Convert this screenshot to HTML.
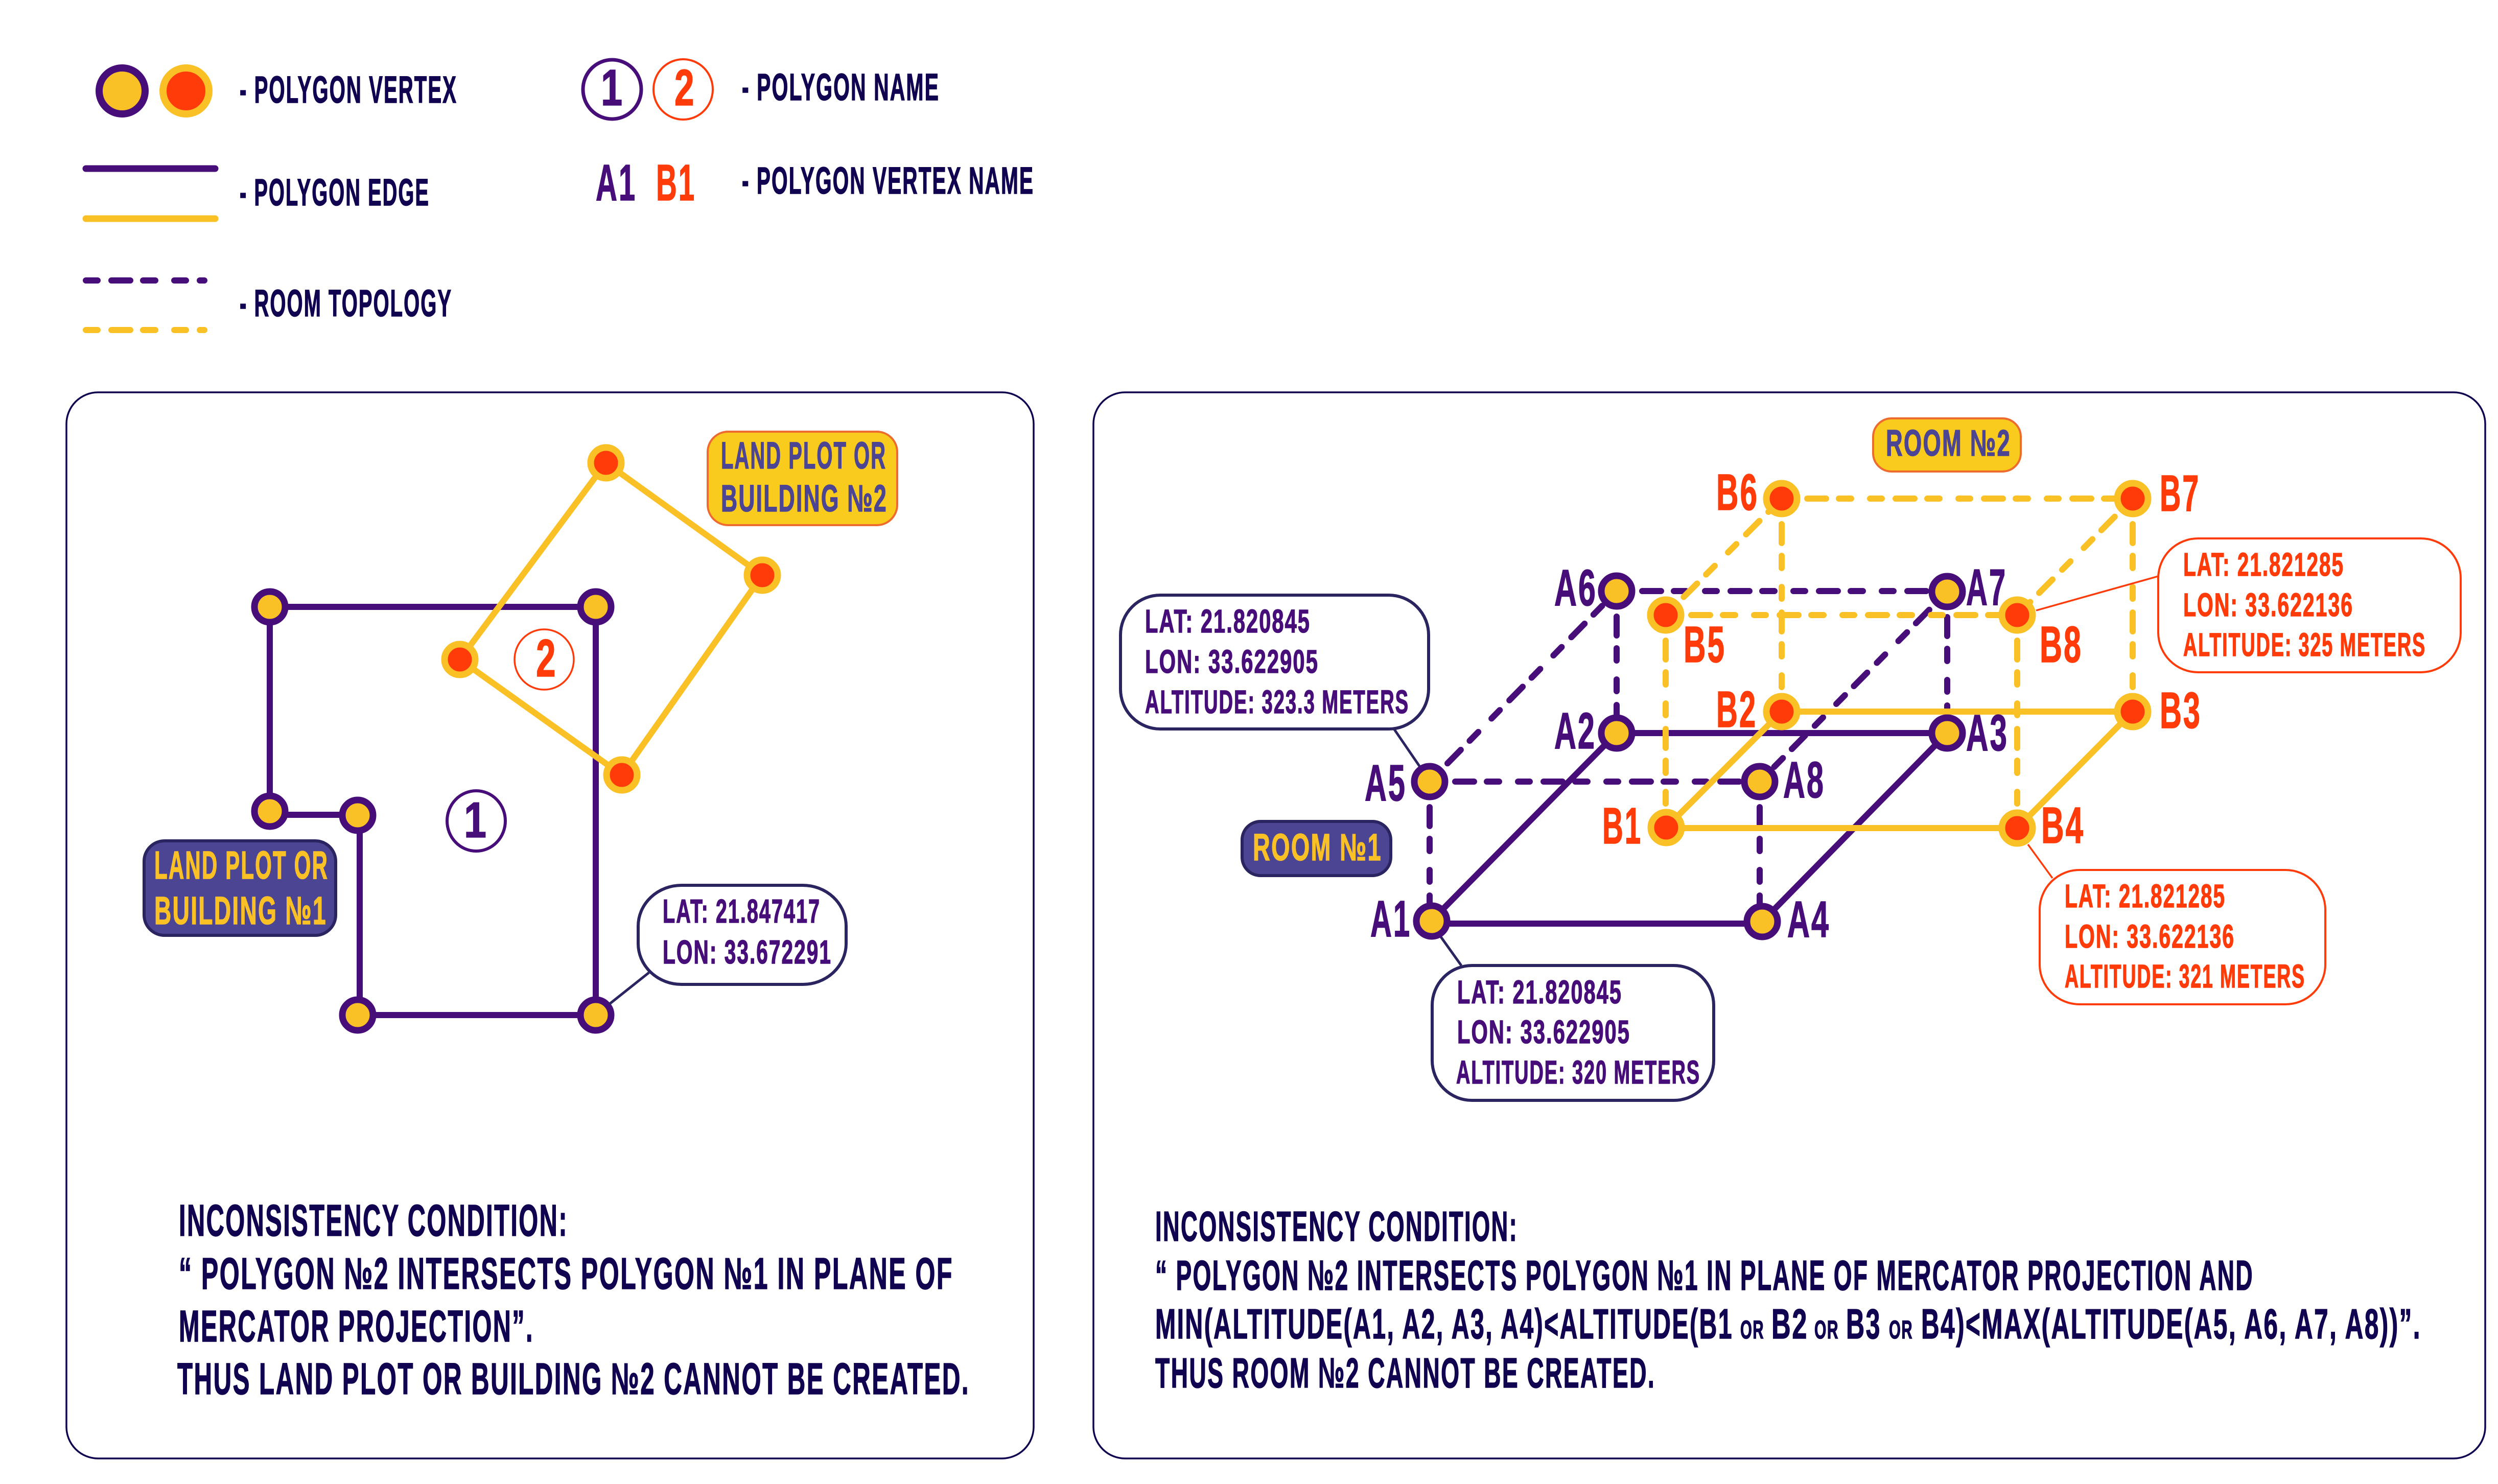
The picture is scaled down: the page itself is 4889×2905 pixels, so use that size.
<!DOCTYPE html>
<html><head><meta charset="utf-8"><style>
html,body{margin:0;padding:0;background:#fff}
svg{display:block}
text{font-family:"Liberation Sans",sans-serif;font-weight:700;letter-spacing:.05em}
.d{fill:#110350;stroke:#110350;stroke-width:1.5}
.p{fill:#470e7a;stroke:#470e7a;stroke-width:1.5}
.r{fill:#ff3b0a;stroke:#ff3b0a;stroke-width:1.5}
.y{fill:#fac127;stroke:#fac127;stroke-width:1.5}
.b{fill:#4c4593;stroke:#4c4593;stroke-width:1.5}
.sp{stroke:#470e7a;stroke-width:12;stroke-linecap:round;fill:none}
.sy{stroke:#fac127;stroke-width:12;stroke-linecap:round;fill:none}
.dp{stroke:#470e7a;stroke-width:12;stroke-linecap:round;fill:none;stroke-dasharray:23 27 37 25 24 37}
.dy{stroke:#fac127;stroke-width:12;stroke-linecap:round;fill:none;stroke-dasharray:23 27 37 25 24 37}
.np{fill:#fac127;stroke:#470e7a;stroke-width:13}
.ny{fill:#ff3b0a;stroke:#fac127;stroke-width:13}
.call{fill:#fff;stroke:#2a2560;stroke-width:6}
.callr{fill:#fff;stroke:#ff3b0a;stroke-width:4}
.panel{fill:#fff;stroke:#110350;stroke-width:3.5}
</style></head><body>
<svg xmlns="http://www.w3.org/2000/svg" width="4889" height="2905" viewBox="0 0 4889 2905">
<rect width="4889" height="2905" fill="#fff"/>

<!-- Legend -->
<circle cx="239" cy="178" r="45" fill="#fac127" stroke="#470e7a" stroke-width="14"/>
<circle cx="364" cy="178" r="45" fill="#ff3b0a" stroke="#fac127" stroke-width="14"/>
<text class="d" x="469" y="201" font-size="74" textLength="426" lengthAdjust="spacingAndGlyphs">- POLYGON VERTEX</text>
<line x1="168" y1="330" x2="421" y2="330" stroke="#470e7a" stroke-width="13" stroke-linecap="round"/>
<line x1="168" y1="428" x2="421" y2="428" stroke="#fac127" stroke-width="13" stroke-linecap="round"/>
<text class="d" x="469" y="402" font-size="74" textLength="372" lengthAdjust="spacingAndGlyphs">- POLYGON EDGE</text>
<line x1="168" y1="549" x2="400" y2="549" class="dp"/>
<line x1="168" y1="646" x2="400" y2="646" class="dy"/>
<text class="d" x="469" y="619" font-size="74" textLength="416" lengthAdjust="spacingAndGlyphs">- ROOM TOPOLOGY</text>
<ellipse cx="1198" cy="175" rx="57" ry="58" fill="#fff" stroke="#470e7a" stroke-width="7"/>
<ellipse cx="1337" cy="175" rx="58" ry="59" fill="#fff" stroke="#ff3b0a" stroke-width="4"/>
<text class="p" x="1176" y="206" font-size="100" textLength="46" lengthAdjust="spacingAndGlyphs">1</text>
<text class="r" x="1320" y="206" font-size="100" textLength="42" lengthAdjust="spacingAndGlyphs">2</text>
<text class="d" x="1452" y="196" font-size="74" textLength="387" lengthAdjust="spacingAndGlyphs">- POLYGON NAME</text>
<text class="p" x="1166" y="392" font-size="100" textLength="80" lengthAdjust="spacingAndGlyphs">A1</text>
<text class="r" x="1284" y="392" font-size="100" textLength="78" lengthAdjust="spacingAndGlyphs">B1</text>
<text class="d" x="1452" y="379" font-size="74" textLength="572" lengthAdjust="spacingAndGlyphs">- POLYGON VERTEX NAME</text>

<!-- Panels -->
<rect class="panel" x="130" y="768" width="1893" height="2087" rx="62" ry="62"/>
<rect class="panel" x="2140" y="768" width="2724" height="2087" rx="62" ry="62"/>

<!-- Left polygon 1 -->
<line class="sp" x1="528" y1="1188" x2="1166" y2="1188"/>
<line class="sp" x1="528" y1="1188" x2="528" y2="1587"/>
<line class="sp" x1="528" y1="1595" x2="700" y2="1595"/>
<line class="sp" x1="704" y1="1596" x2="704" y2="1987"/>
<line class="sp" x1="700" y1="1987" x2="1166" y2="1987"/>
<line class="sp" x1="1166" y1="1188" x2="1166" y2="1987"/>
<!-- Left polygon 2 -->
<line class="sy" x1="1186" y1="906" x2="1492" y2="1126"/>
<line class="sy" x1="1186" y1="906" x2="900" y2="1291"/>
<line class="sy" x1="900" y1="1291" x2="1217" y2="1517"/>
<line class="sy" x1="1492" y1="1126" x2="1217" y2="1517"/>
<!-- Left nodes -->
<circle class="np" cx="528" cy="1188" r="30"/>
<circle class="np" cx="1166" cy="1188" r="30"/>
<circle class="np" cx="528" cy="1588" r="30"/>
<circle class="np" cx="700" cy="1596" r="30"/>
<circle class="np" cx="700" cy="1987" r="30"/>
<circle class="np" cx="1166" cy="1987" r="30"/>
<circle class="ny" cx="1186" cy="906" r="30"/>
<circle class="ny" cx="1492" cy="1126" r="30"/>
<circle class="ny" cx="1217" cy="1517" r="30"/>
<circle class="ny" cx="900" cy="1291" r="30"/>
<!-- Left circles -->
<ellipse cx="1065" cy="1291" rx="58" ry="59" fill="none" stroke="#ff3b0a" stroke-width="3.5"/>
<text class="r" x="1049" y="1324" font-size="104" textLength="42" lengthAdjust="spacingAndGlyphs">2</text>
<ellipse cx="932" cy="1607" rx="57" ry="59" fill="none" stroke="#470e7a" stroke-width="6"/>
<text class="p" x="908" y="1639" font-size="98" textLength="48" lengthAdjust="spacingAndGlyphs">1</text>
<!-- Left labels -->
<rect x="1385" y="845" width="371" height="183" rx="40" ry="40" fill="#f9cb1c" stroke="#ee6b2f" stroke-width="4"/>
<text class="b" x="1411" y="917" font-size="74" textLength="324" lengthAdjust="spacingAndGlyphs">LAND PLOT OR</text>
<text class="b" x="1411" y="1001" font-size="74" textLength="326" lengthAdjust="spacingAndGlyphs">BUILDING №2</text>
<rect x="282" y="1646" width="375" height="185" rx="40" ry="40" fill="#4c4593" stroke="#2a2560" stroke-width="6"/>
<text class="y" x="302" y="1720" font-size="77" textLength="341" lengthAdjust="spacingAndGlyphs">LAND PLOT OR</text>
<text class="y" x="302" y="1809" font-size="77" textLength="338" lengthAdjust="spacingAndGlyphs">BUILDING №1</text>
<line x1="1192" y1="1966" x2="1270" y2="1904" stroke="#2a2560" stroke-width="5"/>
<rect class="call" x="1249" y="1733" width="407" height="194" rx="85" ry="80"/>
<text class="p" x="1297" y="1806" font-size="65" textLength="309" lengthAdjust="spacingAndGlyphs">LAT: 21.847417</text>
<text class="p" x="1297" y="1886" font-size="65" textLength="331" lengthAdjust="spacingAndGlyphs">LON: 33.672291</text>

<!-- Left body text -->
<text class="d" x="350" y="2419" font-size="87" textLength="762" lengthAdjust="spacingAndGlyphs">INCONSISTENCY CONDITION:</text>
<text class="d" x="350" y="2523" font-size="87" textLength="1516" lengthAdjust="spacingAndGlyphs">“ POLYGON №2 INTERSECTS POLYGON №1 IN PLANE OF</text>
<text class="d" x="350" y="2626" font-size="87" textLength="695" lengthAdjust="spacingAndGlyphs">MERCATOR PROJECTION”.</text>
<text class="d" x="347" y="2729" font-size="87" textLength="1551" lengthAdjust="spacingAndGlyphs">THUS LAND PLOT OR BUILDING №2 CANNOT BE CREATED.</text>

<!-- Right: purple topology -->
<line class="dp" x1="2798" y1="1530" x2="3164" y2="1157"/>
<line class="dp" x1="2798" y1="1530" x2="3444" y2="1530"/>
<line class="dp" x1="3164" y1="1157" x2="3811" y2="1157"/>
<line class="dp" x1="3811" y1="1158" x2="3444" y2="1530"/>
<line class="dp" x1="2798" y1="1530" x2="2798" y2="1803"/>
<line class="dp" x1="3164" y1="1157" x2="3164" y2="1435"/>
<line class="dp" x1="3811" y1="1158" x2="3811" y2="1435"/>
<line class="dp" x1="3444" y1="1530" x2="3444" y2="1804"/>
<line class="sp" x1="2801" y1="1808" x2="3448" y2="1808"/>
<line class="sp" x1="2801" y1="1803" x2="3164" y2="1435"/>
<line class="sp" x1="3164" y1="1435" x2="3811" y2="1435"/>
<line class="sp" x1="3811" y1="1435" x2="3449" y2="1804"/>

<!-- Right: yellow -->
<line class="dy" x1="3260" y1="1204" x2="3487" y2="976"/>
<line class="dy" x1="3487" y1="976" x2="4174" y2="976"/>
<line class="dy" x1="4174" y1="976" x2="3948" y2="1204"/>
<line class="dy" x1="3260" y1="1204" x2="3948" y2="1204"/>
<line class="dy" x1="3260" y1="1204" x2="3260" y2="1620"/>
<line class="dy" x1="3487" y1="976" x2="3487" y2="1393"/>
<line class="dy" x1="4174" y1="976" x2="4174" y2="1393"/>
<line class="dy" x1="3948" y1="1204" x2="3948" y2="1621"/>
<line class="sy" x1="3261" y1="1621" x2="3948" y2="1621"/>
<line class="sy" x1="3487" y1="1393" x2="4174" y2="1393"/>
<line class="sy" x1="3261" y1="1620" x2="3487" y2="1393"/>
<line class="sy" x1="4174" y1="1393" x2="3948" y2="1621"/>

<!-- Right connectors -->
<line x1="2729" y1="1428" x2="2779" y2="1501" stroke="#2a2560" stroke-width="5"/>
<line x1="2820" y1="1834" x2="2860" y2="1890" stroke="#2a2560" stroke-width="5"/>
<line x1="3985" y1="1195" x2="4224" y2="1128" stroke="#ff3b0a" stroke-width="3.5"/>
<line x1="3969" y1="1653" x2="4017" y2="1719" stroke="#ff3b0a" stroke-width="3.5"/>

<!-- Right nodes -->
<circle class="np" cx="2798" cy="1530" r="30"/>
<circle class="np" cx="3164" cy="1157" r="30"/>
<circle class="np" cx="3164" cy="1435" r="30"/>
<circle class="np" cx="2802" cy="1803" r="30"/>
<circle class="np" cx="3444" cy="1530" r="30"/>
<circle class="np" cx="3449" cy="1804" r="30"/>
<circle class="np" cx="3811" cy="1158" r="30"/>
<circle class="np" cx="3811" cy="1435" r="30"/>
<circle class="ny" cx="3260" cy="1204" r="30"/>
<circle class="ny" cx="3487" cy="976" r="30"/>
<circle class="ny" cx="3487" cy="1393" r="30"/>
<circle class="ny" cx="3261" cy="1620" r="30"/>
<circle class="ny" cx="4174" cy="976" r="30"/>
<circle class="ny" cx="3948" cy="1204" r="30"/>
<circle class="ny" cx="4174" cy="1393" r="30"/>
<circle class="ny" cx="3948" cy="1621" r="30"/>

<!-- Right vertex labels -->
<text class="p" x="2671" y="1567" font-size="100" textLength="82" lengthAdjust="spacingAndGlyphs">A5</text>
<text class="p" x="3042" y="1185" font-size="100" textLength="84" lengthAdjust="spacingAndGlyphs">A6</text>
<text class="p" x="3042" y="1465" font-size="100" textLength="82" lengthAdjust="spacingAndGlyphs">A2</text>
<text class="p" x="2682" y="1833" font-size="100" textLength="80" lengthAdjust="spacingAndGlyphs">A1</text>
<text class="p" x="3848" y="1184" font-size="100" textLength="80" lengthAdjust="spacingAndGlyphs">A7</text>
<text class="p" x="3848" y="1469" font-size="100" textLength="83" lengthAdjust="spacingAndGlyphs">A3</text>
<text class="p" x="3490" y="1561" font-size="100" textLength="82" lengthAdjust="spacingAndGlyphs">A8</text>
<text class="p" x="3498" y="1834" font-size="100" textLength="84" lengthAdjust="spacingAndGlyphs">A4</text>
<text class="r" x="3359" y="998" font-size="100" textLength="83" lengthAdjust="spacingAndGlyphs">B6</text>
<text class="r" x="3295" y="1296" font-size="100" textLength="83" lengthAdjust="spacingAndGlyphs">B5</text>
<text class="r" x="3359" y="1423" font-size="100" textLength="80" lengthAdjust="spacingAndGlyphs">B2</text>
<text class="r" x="3136" y="1651" font-size="100" textLength="78" lengthAdjust="spacingAndGlyphs">B1</text>
<text class="r" x="4227" y="1000" font-size="100" textLength="79" lengthAdjust="spacingAndGlyphs">B7</text>
<text class="r" x="3992" y="1296" font-size="100" textLength="84" lengthAdjust="spacingAndGlyphs">B8</text>
<text class="r" x="4227" y="1425" font-size="100" textLength="82" lengthAdjust="spacingAndGlyphs">B3</text>
<text class="r" x="3995" y="1650" font-size="100" textLength="85" lengthAdjust="spacingAndGlyphs">B4</text>

<!-- Room labels -->
<rect x="2431" y="1608" width="291" height="106" rx="36" ry="36" fill="#4c4593" stroke="#2a2560" stroke-width="6"/>
<text class="y" x="2452" y="1684" font-size="74" textLength="253" lengthAdjust="spacingAndGlyphs">ROOM №1</text>
<rect x="3666" y="819" width="289" height="104" rx="36" ry="36" fill="#f9cb1c" stroke="#ee6b2f" stroke-width="4"/>
<text class="b" x="3691" y="892" font-size="72" textLength="245" lengthAdjust="spacingAndGlyphs">ROOM №2</text>

<!-- Callouts -->
<rect class="call" x="2193" y="1165" width="603" height="262" rx="78" ry="78"/>
<text class="p" x="2241" y="1238" font-size="64" textLength="324" lengthAdjust="spacingAndGlyphs">LAT: 21.820845</text>
<text class="p" x="2241" y="1317" font-size="64" textLength="340" lengthAdjust="spacingAndGlyphs">LON: 33.622905</text>
<text class="p" x="2241" y="1396" font-size="64" textLength="517" lengthAdjust="spacingAndGlyphs">ALTITUDE: 323.3 METERS</text>

<rect class="call" x="2803" y="1890" width="551" height="264" rx="78" ry="78"/>
<text class="p" x="2852" y="1964" font-size="64" textLength="323" lengthAdjust="spacingAndGlyphs">LAT: 21.820845</text>
<text class="p" x="2852" y="2042" font-size="64" textLength="339" lengthAdjust="spacingAndGlyphs">LON: 33.622905</text>
<text class="p" x="2850" y="2121" font-size="64" textLength="478" lengthAdjust="spacingAndGlyphs">ALTITUDE: 320 METERS</text>

<rect class="callr" x="4224" y="1054" width="592" height="262" rx="78" ry="78"/>
<text class="r" x="4273" y="1127" font-size="64" textLength="315" lengthAdjust="spacingAndGlyphs">LAT: 21.821285</text>
<text class="r" x="4273" y="1206" font-size="64" textLength="333" lengthAdjust="spacingAndGlyphs">LON: 33.622136</text>
<text class="r" x="4273" y="1284" font-size="64" textLength="475" lengthAdjust="spacingAndGlyphs">ALTITUDE: 325 METERS</text>

<rect class="callr" x="3992" y="1703" width="559" height="263" rx="78" ry="78"/>
<text class="r" x="4041" y="1776" font-size="64" textLength="315" lengthAdjust="spacingAndGlyphs">LAT: 21.821285</text>
<text class="r" x="4041" y="1855" font-size="64" textLength="333" lengthAdjust="spacingAndGlyphs">LON: 33.622136</text>
<text class="r" x="4041" y="1933" font-size="64" textLength="471" lengthAdjust="spacingAndGlyphs">ALTITUDE: 321 METERS</text>

<!-- Right body text -->
<text class="d" x="2261" y="2429" font-size="83" textLength="710" lengthAdjust="spacingAndGlyphs">INCONSISTENCY CONDITION:</text>
<text class="d" x="2261" y="2525" font-size="83" textLength="2150" lengthAdjust="spacingAndGlyphs">“ POLYGON №2 INTERSECTS POLYGON №1 IN PLANE OF MERCATOR PROJECTION AND</text>
<text class="d" x="2261" y="2620" font-size="83" textLength="1131" lengthAdjust="spacingAndGlyphs">MIN(ALTITUDE(A1, A2, A3, A4)&lt;ALTITUDE(B1</text>
<text class="d" x="3406" y="2620" font-size="50" textLength="47" lengthAdjust="spacingAndGlyphs">OR</text>
<text class="d" x="3467" y="2620" font-size="83" textLength="72" lengthAdjust="spacingAndGlyphs">B2</text>
<text class="d" x="3551" y="2620" font-size="50" textLength="48" lengthAdjust="spacingAndGlyphs">OR</text>
<text class="d" x="3613" y="2620" font-size="83" textLength="69" lengthAdjust="spacingAndGlyphs">B3</text>
<text class="d" x="3697" y="2620" font-size="50" textLength="47" lengthAdjust="spacingAndGlyphs">OR</text>
<text class="d" x="3760" y="2620" font-size="83" textLength="979" lengthAdjust="spacingAndGlyphs">B4)&lt;MAX(ALTITUDE(A5, A6, A7, A8))”.</text>
<text class="d" x="2261" y="2716" font-size="83" textLength="979" lengthAdjust="spacingAndGlyphs">THUS ROOM №2 CANNOT BE CREATED.</text>
</svg>
</body></html>
